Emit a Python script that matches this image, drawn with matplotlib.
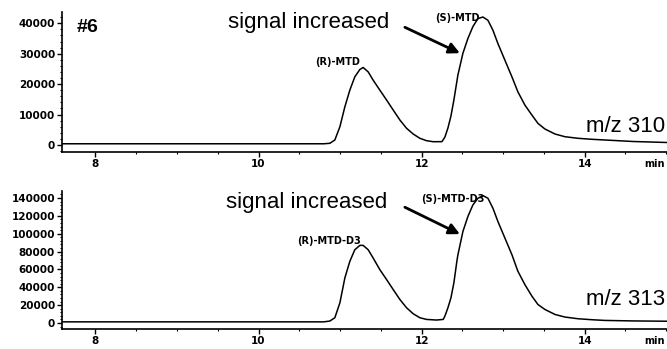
import numpy as np
import matplotlib
matplotlib.use('Agg')
import matplotlib.pyplot as plt
from matplotlib.ticker import MultipleLocator
from matplotlib.font_manager import FontProperties

# Trace: retention time (min) and intensity
t_310 = [7.59, 10.80, 10.875, 10.936, 10.998, 11.059, 11.120, 11.181, 11.243, 11.283,
         11.345, 11.406, 11.488, 11.571, 11.652, 11.734, 11.816, 11.897, 11.979, 12.061,
         12.142, 12.250, 12.286, 12.323, 12.360, 12.396, 12.445, 12.507, 12.568, 12.629,
         12.691, 12.752, 12.814, 12.875, 12.936, 13.022, 13.108, 13.181, 13.267, 13.353,
         13.427, 13.513, 13.636, 13.758, 13.918, 14.090, 14.249, 14.593, 15.01]
i_310 = [400, 400, 560, 1640, 6000, 12560, 18030, 22400, 24820, 25480,
         24030, 21310, 18030, 14760, 11480, 8200, 5480, 3610, 2200, 1410,
         1080, 1100, 2600, 5570, 9510, 14760, 22950, 30170, 35000, 38900,
         41550, 42070, 40990, 37710, 33350, 27870, 22400, 17480, 13120, 9840,
         7110, 5250, 3610, 2720, 2200, 1870, 1640, 1150, 820]

t_313 = [7.59, 10.80, 10.875, 10.936, 10.998, 11.059, 11.120, 11.181, 11.243, 11.283,
         11.345, 11.406, 11.488, 11.571, 11.652, 11.734, 11.816, 11.897, 11.979, 12.061,
         12.183, 12.265, 12.286, 12.323, 12.360, 12.396, 12.434, 12.445, 12.507, 12.568,
         12.629, 12.691, 12.752, 12.814, 12.875, 12.936, 13.022, 13.108, 13.181, 13.267,
         13.353, 13.427, 13.513, 13.636, 13.758, 13.918, 14.090, 14.249, 14.593, 15.01]
i_313 = [1300, 1300, 2230, 5910, 22630, 50490, 69110, 82030, 86940, 86940,
         82030, 72780, 59740, 48600, 37450, 26300, 17050, 10370, 5910, 4010,
         3340, 4010, 7800, 17050, 28200, 44920, 70000, 76130, 102540, 119260,
         132190, 139660, 142670, 139660, 128520, 113690, 95080, 76460, 57960, 43020,
         30090, 20730, 15160, 9590, 6690, 4790, 3680, 2900, 2340, 2000]

panels = [
    dict(t=t_310, y=i_310, ylim=(-2300, 43700), major=10000, minor=2000,
         mz='m/z 310', peaks=[('(R)-MTD', 10.973, 27380), ('(S)-MTD', 12.433, 41640)],
         sig=(9.623, 38360), arrow=((11.795, 38690), (12.47, 30170)),
         mz_pos=(14.985, 4260), tag='#6', tag_pos=(7.77, 37050)),
    dict(t=t_313, y=i_313, ylim=(-6700, 147800), major=20000, minor=4000,
         mz='m/z 313', peaks=[('(R)-MTD-D3', 10.862, 91730), ('(S)-MTD-D3', 12.384, 139030)],
         sig=(9.60, 128510), arrow=((11.795, 129630), (12.47, 99530)),
         mz_pos=(14.985, 20400), tag=None, tag_pos=None),
]

fig = plt.figure(figsize=(6.67, 3.49), dpi=100)
rects = [[0.093, 0.5645, 0.907, 0.401], [0.093, 0.0573, 0.907, 0.3954]]

tick_font = dict(family='DejaVu Sans', weight='bold', size=7.5)
label_font = dict(family='DejaVu Sans', weight='bold', size=7)

for rect, p in zip(rects, panels):
    ax = fig.add_axes(rect)
    ax.plot(p['t'], p['y'], color='black', lw=1.1)
    ax.set_xlim(7.59, 15.01)
    ax.set_ylim(*p['ylim'])

    for s in ['top', 'right']:
        ax.spines[s].set_visible(False)
    for s in ['left', 'bottom']:
        ax.spines[s].set_linewidth(1.2)

    ax.xaxis.set_major_locator(MultipleLocator(2))
    ax.xaxis.set_minor_locator(MultipleLocator(0.5))
    ax.yaxis.set_minor_locator(MultipleLocator(p['minor']))
    ax.set_yticks(np.arange(0, p['ylim'][1], p['major']))
    ax.tick_params(which='major', length=3.5, width=1.0, pad=1.5)
    ax.tick_params(which='minor', length=1.5, width=0.8)
    for lab in ax.get_xticklabels() + ax.get_yticklabels():
        lab.set_fontproperties(FontProperties(**tick_font))

    ax.annotate('min', xy=(14.86, 0), xycoords=('data', 'axes fraction'),
                xytext=(0, -5), textcoords='offset points', ha='center', va='top',
                **label_font)

    for name, x, y in p['peaks']:
        ax.text(x, y, name, ha='center', va='center', **label_font)

    ax.text(p['sig'][0], p['sig'][1], 'signal increased', family='Liberation Sans',
            fontsize=16, ha='left', va='baseline')
    ax.annotate('', xy=p['arrow'][1], xytext=p['arrow'][0],
                arrowprops=dict(arrowstyle='-|>', color='black', lw=2,
                                mutation_scale=16, shrinkA=0, shrinkB=0))
    ax.text(p['mz_pos'][0], p['mz_pos'][1], p['mz'], family='Liberation Sans',
            fontsize=16, ha='right', va='baseline')
    if p['tag']:
        ax.text(p['tag_pos'][0], p['tag_pos'][1], p['tag'], family='Liberation Sans',
                fontsize=14, weight='bold', ha='left', va='baseline')

fig.savefig('out.png', dpi=100)
